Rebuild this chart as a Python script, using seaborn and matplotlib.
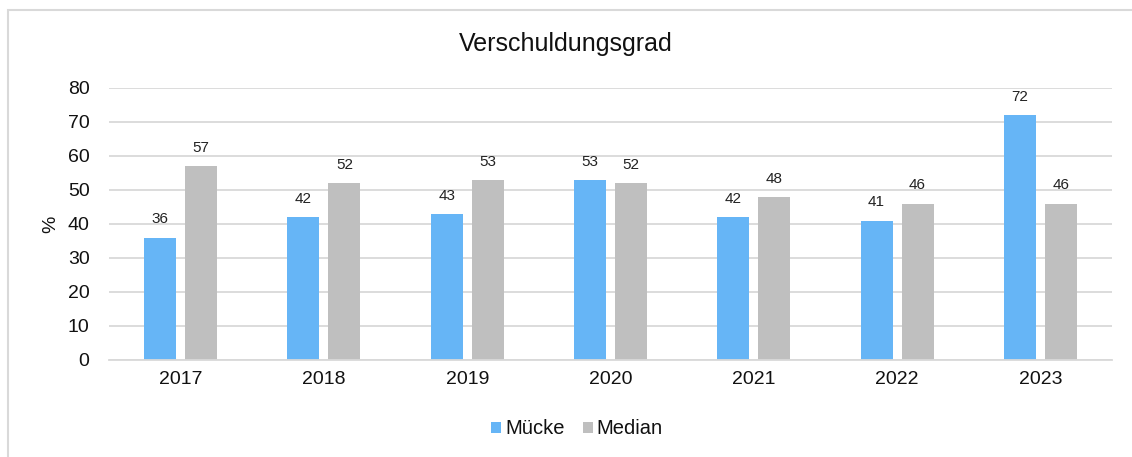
import matplotlib
matplotlib.use("Agg")
import matplotlib.pyplot as plt
from matplotlib.patches import Rectangle
import seaborn as sns
import pandas as pd

years = ["2017", "2018", "2019", "2020", "2021", "2022", "2023"]
muecke = [36, 42, 43, 53, 42, 41, 72]
median = [57, 52, 53, 52, 48, 46, 46]
series_names = ["Mücke", "Median"]
colors = ["#66B5F6", "#BFBFBF"]

df = pd.DataFrame({
    "Jahr": years * 2,
    "Wert": muecke + median,
    "Reihe": [series_names[0]] * len(years) + [series_names[1]] * len(years),
})

sns.set_theme(style="white")
plt.rcParams["font.family"] = ["Liberation Sans", "DejaVu Sans"]

fig = plt.figure(figsize=(11.32, 4.57), dpi=100)
ax = fig.add_axes([109 / 1132, 1 - 360 / 457, (1112 - 109) / 1132, (360 - 88) / 457])

sns.barplot(data=df, x="Jahr", y="Wert", hue="Reihe", palette=colors,
            saturation=1, width=0.572, gap=0.22, linewidth=0, edgecolor="none",
            ax=ax, legend=True)

for cont in ax.containers:
    ax.bar_label(cont, fmt="%d", padding=8, fontsize=11, color="#222222")

ax.set_ylim(0, 80)
ax.set_yticks(range(0, 81, 10))
ax.set_xlim(-0.5, len(years) - 0.5)
ax.grid(axis="y", color="#D9D9D9", linewidth=1.3)
ax.set_axisbelow(True)
for s in ["top", "right", "left"]:
    ax.spines[s].set_visible(False)
ax.spines["bottom"].set_color("#D9D9D9")
ax.spines["bottom"].set_linewidth(1.3)
ax.tick_params(axis="both", length=0, labelsize=14, colors="#111111")
ax.tick_params(axis="y", pad=14)
ax.tick_params(axis="x", pad=8)
ax.set_xlabel("")
ax.set_ylabel("%", fontsize=14, color="#111111", labelpad=6)

handles, labels = ax.get_legend_handles_labels()
ax.get_legend().remove()
fig.legend(handles, labels, loc="center", bbox_to_anchor=(577 / 1132, 1 - 429 / 457),
           ncol=2, frameon=False, fontsize=14.5, handlelength=0.5, handleheight=0.5,
           handletextpad=0.2, columnspacing=0.9, labelcolor="#111111")

fig.text(0.5, 1 - 44 / 457, "Verschuldungsgrad", ha="center", va="center",
         fontsize=18, color="#111111")

# chart-area frame
fig.patches.append(Rectangle((8 / 1132, -0.05), 1.2, (1 - 10 / 457) + 0.05,
                             transform=fig.transFigure, fill=False,
                             edgecolor="#D9D9D9", linewidth=1.5))

fig.savefig("out.png", dpi=100)
